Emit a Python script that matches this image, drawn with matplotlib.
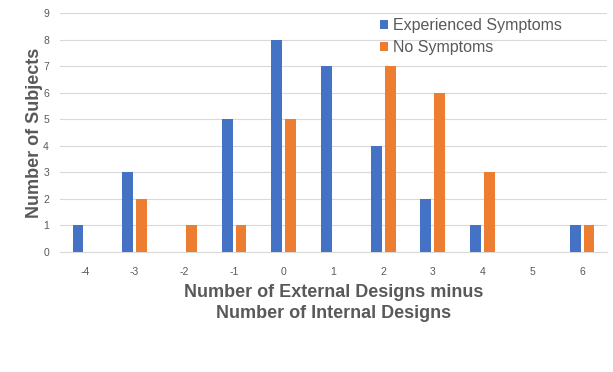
import numpy as np
import matplotlib
matplotlib.use("Agg")
import matplotlib.pyplot as plt

plt.rcParams['font.family'] = ['Liberation Sans', 'DejaVu Sans']

# Data
categories = ['-4', '-3', '-2', '-1', '0', '1', '2', '3', '4', '5', '6']
experienced = [1, 3, 0, 5, 8, 7, 4, 2, 1, 0, 1]
no_symptoms = [0, 2, 1, 1, 5, 0, 7, 6, 3, 0, 1]

blue = '#4472C4'
orange = '#ED7D31'
text_gray = '#595959'
grid_gray = '#D9D9D9'

fig = plt.figure(figsize=(6.13, 3.72), dpi=100)
ax = fig.add_axes([0.098, 0.323, 0.892, 0.641])

x = np.arange(len(categories))
w = 0.22
ax.bar(x - 0.14, experienced, width=w, color=blue, label='Experienced Symptoms', zorder=3)
ax.bar(x + 0.14, no_symptoms, width=w, color=orange, label='No Symptoms', zorder=3)

ax.set_xlim(-0.5, len(categories) - 0.5)
ax.set_ylim(0, 9)
ax.set_yticks(range(0, 10))
ax.set_xticks(x)
ax.set_xticklabels(categories)

ax.grid(axis='y', color=grid_gray, linewidth=0.8, zorder=0)
for s in ['top', 'right', 'left']:
    ax.spines[s].set_visible(False)
ax.spines['bottom'].set_color(grid_gray)
ax.spines['bottom'].set_linewidth(0.8)
ax.tick_params(axis='both', length=0, colors=text_gray, labelsize=7.5)
ax.tick_params(axis='x', pad=11)
ax.tick_params(axis='y', pad=8)

ax.set_ylabel('Number of Subjects', fontsize=13, fontweight='bold', color=text_gray, labelpad=0)
ax.set_xlabel('Number of External Designs minus\nNumber of Internal Designs',
              fontsize=13, fontweight='bold', color=text_gray, labelpad=5, linespacing=1.3)

leg = ax.legend(loc='upper left', bbox_to_anchor=(0.568, 1.02), frameon=False,
                fontsize=11.5, handlelength=0.5, handleheight=0.5, handletextpad=0.3,
                labelspacing=0.45, borderaxespad=0.2)
for t in leg.get_texts():
    t.set_color(text_gray)

fig.savefig('out.png', dpi=100)
